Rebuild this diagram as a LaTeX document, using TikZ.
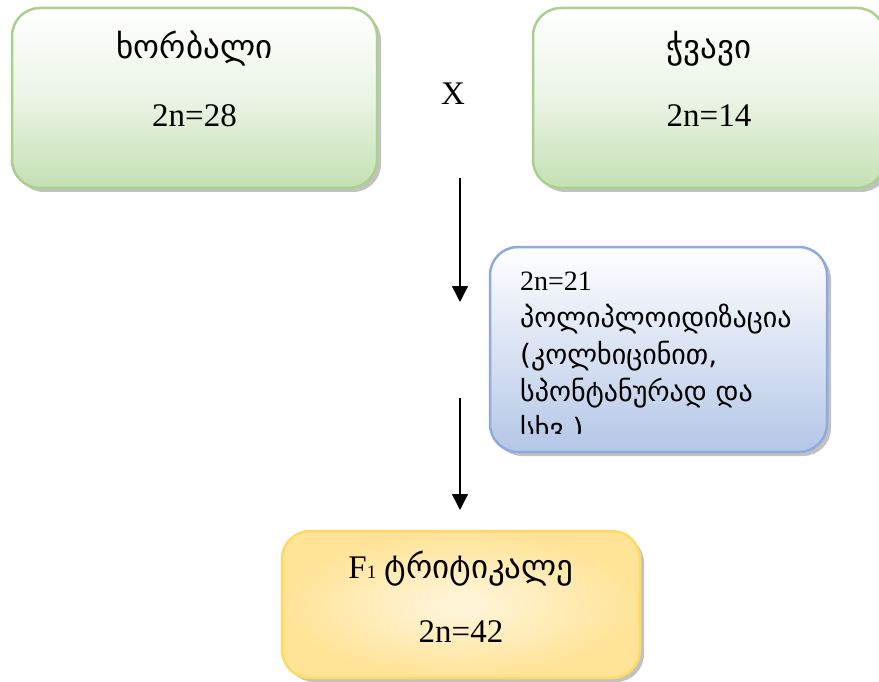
\documentclass[tikz,border=0pt]{standalone}
\usepackage{fontspec}
\setmainfont{Liberation Serif}
\newfontfamily\geo{DejaVu Sans}
\usepackage{xcolor}
\usetikzlibrary{arrows.meta,shadows}

\definecolor{wheatline}{HTML}{A9D18E}
\definecolor{wheatfill}{HTML}{C5E0B4}
\definecolor{polyline}{HTML}{8FAADC}
\definecolor{polyfill}{HTML}{B4C7E7}
\definecolor{hybline}{HTML}{FFD966}
\definecolor{hybouter}{HTML}{FFE396}
\definecolor{hybinner}{HTML}{FFF6DE}

\begin{document}
\begin{tikzpicture}[x=1pt, y=-1pt,
    every node/.style={inner sep=0pt},
    box/.style={line width=2.5pt, rounded corners=28pt,
      drop shadow={shadow xshift=4pt, shadow yshift=-4pt, opacity=.4, fill=black!60}},
    greenbox/.style={box, draw=wheatline, top color=white, bottom color=wheatfill,
      middle color=wheatfill!35, minimum height=180pt},
    bluebox/.style={box, draw=polyline, top color=white, bottom color=polyfill,
      minimum width=337pt, minimum height=205pt},
    yellowbox/.style={box, draw=hybline, inner color=hybinner, outer color=hybouter,
      minimum width=358pt, minimum height=147pt},
    bigtext/.style={font=\fontsize{33}{37}\selectfont, anchor=base},
    flow/.style={line width=1.5pt, -{Triangle[width=16pt,length=16pt]}}
  ]
  \useasboundingbox (0,0) rectangle (879,682);
  \clip (0,0) rectangle (879,682);

  % the two parents
  \foreach \name/\x/\w/\plant/\chr in {
    wheat/194.5/365/ხორბალი/28,
    rye/709/352/ჭვავი/14%
  } {
    \node[greenbox, minimum width=\w pt] (\name) at (\x,98) {};
    \node[bigtext] (\name-plant) at (\x,59) {\geo\plant};
    \node[bigtext] (\name-chr) at (\x,127) {2n=\chr};
  }

  % the cross
  \node[font=\fontsize{33}{37}\selectfont] (cross) at (453,94) {X};

  % arrows down to the hybrid
  \foreach \i/\ya/\yb in {1/178/302, 2/398/510} {
    \coordinate (arrow-\i-top) at (460,\ya);
    \coordinate (arrow-\i-tip) at (460,\yb);
    \draw[flow] (arrow-\i-top) -- (arrow-\i-tip);
  }

  % polyploidization, text runs out of the box
  \node[bluebox] (poly) at (658.5,349.5) {};
  \begin{scope}
    \clip (494,251) rectangle (823,433);
    \node[anchor=north west, align=left, font=\fontsize{28}{37}\selectfont]
      (poly-txt) at (520,272) {2n=21\\
        {\geo პოლიპლოიდიზაცია}\\
        {\geo (კოლხიცინით,}\\
        {\geo სპონტანურად და}\\
        {\geo სხვ.)}};
  \end{scope}

  % the hybrid
  \node[yellowbox] (hybrid) at (461,604.5) {};
  \node[bigtext] (hybrid-name) at (461,578)
    {F{\fontsize{19}{19}\selectfont 1} {\geo ტრიტიკალე}};
  \node[bigtext] (hybrid-chr) at (461,642) {2n=42};
\end{tikzpicture}
\end{document}
